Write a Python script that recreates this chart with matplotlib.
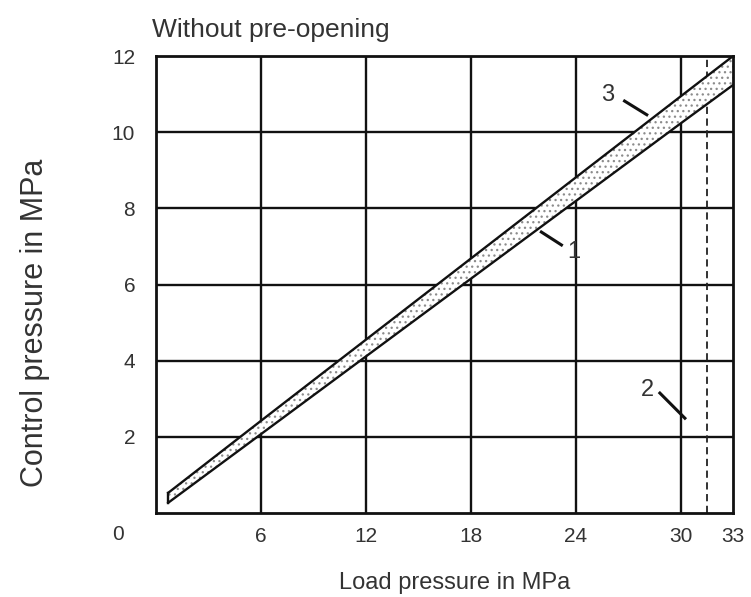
import matplotlib
matplotlib.use("Agg")
import matplotlib.pyplot as plt
import numpy as np

# dados
carga = [0.7, 6, 12, 18, 24, 30, 33]
linha_3 = [0.53, 2.42, 4.55, 6.68, 8.81, 10.94, 12.0]   # limite superior
linha_1 = [0.27, 2.07, 4.11, 6.15, 8.19, 10.23, 11.24]  # limite inferior
x_ticks = [6, 12, 18, 24, 30, 33]
y_ticks = [2, 4, 6, 8, 10, 12]
x_grid = [6, 12, 18, 24, 30]
y_grid = [2, 4, 6, 8, 10]
limite_2 = 31.5

fonte = ["Liberation Sans", "DejaVu Sans"]
cor_txt = "#333333"

fig = plt.figure(figsize=(7.51, 5.97), dpi=100)
ax = fig.add_axes([0.2077, 0.1407, 0.7683, 0.7653])

ax.set_xlim(0, 33)
ax.set_ylim(0, 12)

for g in x_grid:
    ax.axvline(g, color="#111111", lw=1.7, zorder=1)
for g in y_grid:
    ax.axhline(g, color="#111111", lw=1.7, zorder=1)
ax.axvline(limite_2, color="#222222", lw=1.3, ls=(0, (4, 2.5)), zorder=1)

# faixa pontilhada entre as linhas 1 e 3
plt.rcParams["hatch.linewidth"] = 0.9
ax.fill_between(carga, linha_1, linha_3, facecolor="white", edgecolor="#8c8c8c",
                hatch="...", linewidth=0, zorder=2)
ax.plot(carga, linha_3, color="#111111", lw=1.7, zorder=3)
ax.plot(carga, linha_1, color="#111111", lw=1.7, zorder=3)
ax.plot([carga[0], carga[0]], [linha_1[0], linha_3[0]], color="#111111", lw=1.7, zorder=3)

# rótulos das curvas
ax.plot([26.8, 28.07], [10.82, 10.46], color="#111111", lw=2.2, zorder=4)
ax.text(25.83, 10.98, "3", fontsize=17, family=fonte, color=cor_txt, ha="center", va="center")
ax.plot([22.04, 23.19], [7.38, 7.04], color="#111111", lw=2.2, zorder=4)
ax.text(23.88, 6.85, "1", fontsize=17, family=fonte, color=cor_txt, ha="center", va="center")
ax.plot([28.82, 30.25], [3.15, 2.49], color="#111111", lw=2.2, zorder=4)
ax.text(28.13, 3.23, "2", fontsize=17, family=fonte, color=cor_txt, ha="center", va="center")

for s in ax.spines.values():
    s.set_linewidth(2)
    s.set_color("#111111")

ax.set_xticks(x_ticks)
ax.set_yticks(y_ticks)
ax.set_xticklabels([str(t) for t in x_ticks], fontsize=15, family=fonte, color=cor_txt)
ax.set_yticklabels([str(t) for t in y_ticks], fontsize=15, family=fonte, color=cor_txt)
ax.tick_params(axis="both", length=0)
ax.tick_params(axis="x", pad=10)
ax.tick_params(axis="y", pad=15)
ax.text(-0.066, -0.047, "0", transform=ax.transAxes, fontsize=15, family=fonte,
        color=cor_txt, ha="center", va="center")

fig.text(0.203, 0.95, "Without pre-opening", fontsize=19, family=fonte,
         color=cor_txt, ha="left", va="center")
fig.text(0.606, 0.024, "Load pressure in MPa", fontsize=17, family=fonte,
         color=cor_txt, ha="center", va="center")
fig.text(0.047, 0.459, "Control pressure in MPa", fontsize=22, family=fonte,
         color=cor_txt, ha="center", va="center", rotation=90)

fig.savefig("out.png", dpi=100)
